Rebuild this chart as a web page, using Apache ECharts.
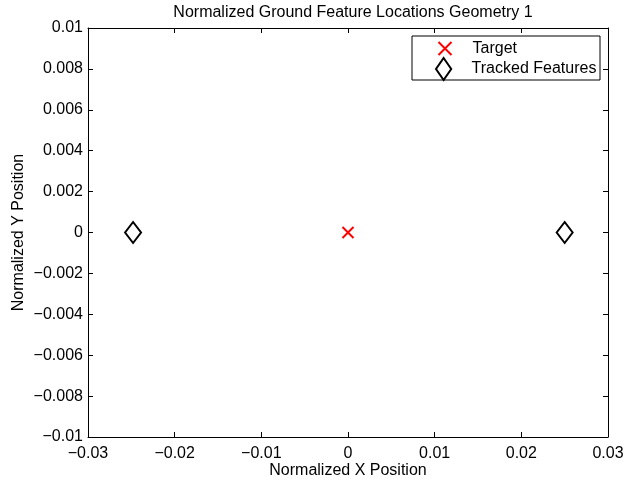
<!DOCTYPE html>
<html>
<head>
<meta charset="utf-8">
<script src="https://cdn.jsdelivr.net/npm/echarts@6/dist/echarts.min.js"></script>
<style>html,body{margin:0;padding:0;background:#fff}#c{width:626px;height:484px}</style>
</head>
<body>
<div id="c"></div>
<script>
var titleText = 'Normalized Ground Feature Locations Geometry 1';
var xAxisName = 'Normalized X Position';
var yAxisName = 'Normalized Y Position';
var targetPoints = [[0, 0]];
var trackedPoints = [[-0.0248, 0], [0.025, 0]];
var xTickLabels = ['\u22120.03', '\u22120.02', '\u22120.01', '0', '0.01', '0.02', '0.03'];
var yTickLabels = ['\u22120.01', '\u22120.008', '\u22120.006', '\u22120.004', '\u22120.002', '0', '0.002', '0.004', '0.006', '0.008', '0.01'];
var seriesNames = ['Target', 'Tracked Features'];

var FONT = '"Liberation Sans", Arial, Helvetica, sans-serif';
var crossPath = 'path://M0,0L10,10M10,0L0,10';
var diamondPath = 'path://M0,-13L9,0L0,13L-9,0Z';

var chart = echarts.init(document.getElementById('c'), null, {renderer: 'canvas'});
var grid = {left: 88, right: 18, top: 28, bottom: 47, containLabel: false, outerBoundsMode: 'none'};
var axisCommon = {
  axisLine: {show: true, onZero: false, lineStyle: {color: '#000', width: 1}},
  axisTick: {show: true, inside: true, length: 5, lineStyle: {color: '#000', width: 1}},
  splitLine: {show: false},
  nameMoveOverlap: false
};
function xAxis(pos, labels) {
  return Object.assign({
    type: 'value', position: pos, min: -0.03, max: 0.03, interval: 0.01,
    axisLabel: {show: labels, margin: 9, color: '#000', fontSize: 16, fontFamily: FONT,
      formatter: function (v, i) { return xTickLabels[i]; }},
    name: labels ? xAxisName : '', nameLocation: 'middle', nameGap: 26,
    nameTextStyle: {color: '#000', fontSize: 16, fontFamily: FONT}
  }, axisCommon);
}
function yAxis(pos, labels) {
  return Object.assign({
    type: 'value', position: pos, min: -0.01, max: 0.01, interval: 0.002,
    axisLabel: {show: labels, margin: 5, color: '#000', fontSize: 16, fontFamily: FONT,
      formatter: function (v, i) { return yTickLabels[i]; }},
    name: labels ? yAxisName : '', nameLocation: 'middle', nameGap: 61,
    nameTextStyle: {color: '#000', fontSize: 16, fontFamily: FONT}
  }, axisCommon);
}
chart.setOption({
  animation: false,
  backgroundColor: '#fff',
  title: {
    text: titleText, left: 348, top: 0, textAlign: 'center',
    textStyle: {color: '#000', fontSize: 16, fontWeight: 'normal', fontFamily: FONT}
  },
  grid: grid,
  xAxis: [xAxis('bottom', true), xAxis('top', false)],
  yAxis: [yAxis('left', true), yAxis('right', false)],
  graphic: [{
    type: 'rect', z: 3,
    shape: {x: 412, y: 36, width: 188, height: 44},
    style: {fill: '#fff', stroke: '#000', lineWidth: 1}
  }],
  legend: [{
    data: [{name: seriesNames[0], icon: crossPath}],
    left: 437.5, top: 40.5, padding: 0, itemWidth: 13, itemHeight: 13,
    itemStyle: {color: 'rgba(0,0,0,0)', borderColor: '#ff0000', borderWidth: 2},
    textStyle: {color: '#000', fontSize: 16, fontFamily: FONT, padding: [0, 0, 0, 16]},
    selectedMode: false, z: 5
  }, {
    data: [{name: seriesNames[1], icon: diamondPath}],
    left: 435, top: 57, padding: 0, itemWidth: 18, itemHeight: 22,
    itemStyle: {color: 'rgba(0,0,0,0)', borderColor: '#000', borderWidth: 2},
    textStyle: {color: '#000', fontSize: 16, fontFamily: FONT, padding: [0, 0, 0, 14]},
    selectedMode: false, z: 5
  }],
  series: [{
    name: seriesNames[0], type: 'scatter', data: targetPoints,
    symbol: crossPath, symbolSize: 11,
    itemStyle: {color: 'rgba(0,0,0,0)', borderColor: '#ff0000', borderWidth: 2, opacity: 1},
    emphasis: {disabled: true}
  }, {
    name: seriesNames[1], type: 'scatter', data: trackedPoints,
    symbol: diamondPath, symbolSize: [16, 21],
    itemStyle: {color: 'rgba(0,0,0,0)', borderColor: '#000', borderWidth: 2, opacity: 1},
    emphasis: {disabled: true}
  }]
});
</script>
</body>
</html>
